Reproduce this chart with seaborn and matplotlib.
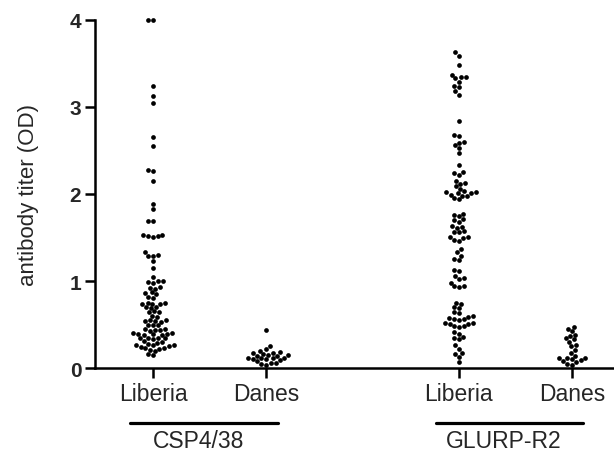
import pandas as pd
import numpy as np
import matplotlib
matplotlib.use("Agg")
import matplotlib.pyplot as plt
import seaborn as sns

# values (OD)
csp_liberia = [4.0, 4.0, 3.24, 3.13, 3.05, 2.66, 2.55, 2.28, 2.26, 2.15, 1.89, 1.83,
               1.69, 1.69, 1.53, 1.53, 1.52, 1.52, 1.50, 1.33, 1.30, 1.29, 1.29, 1.23,
               1.15, 1.05, 1.0, 1.0, 0.99, 0.98, 0.93, 0.92, 0.91, 0.87, 0.86, 0.85,
               0.82, 0.81, 0.75, 0.75, 0.74, 0.74, 0.73, 0.70, 0.70, 0.69, 0.65, 0.64,
               0.64, 0.60, 0.59, 0.55, 0.55, 0.54, 0.54, 0.53, 0.50, 0.49, 0.49, 0.45,
               0.45, 0.44, 0.44, 0.43, 0.40, 0.40, 0.39, 0.39, 0.39, 0.38, 0.38, 0.35,
               0.35, 0.34, 0.34, 0.33, 0.31, 0.30, 0.29, 0.28, 0.27, 0.27, 0.26, 0.25,
               0.24, 0.23, 0.23, 0.22, 0.21, 0.20, 0.16, 0.15]
csp_danes = [0.44, 0.25, 0.22, 0.20, 0.18, 0.17, 0.17, 0.16, 0.15, 0.15, 0.14, 0.14,
             0.12, 0.12, 0.11, 0.11, 0.10, 0.10, 0.09, 0.08, 0.06, 0.06, 0.05, 0.04]
glurp_liberia = [3.63, 3.59, 3.48, 3.37, 3.35, 3.34, 3.33, 3.29, 3.24, 3.23, 3.18, 3.14,
                 2.84, 2.68, 2.67, 2.60, 2.59, 2.56, 2.53, 2.47, 2.33, 2.25, 2.24, 2.22,
                 2.15, 2.13, 2.12, 2.09, 2.06, 2.03, 2.02, 2.02, 2.01, 2.01, 1.99, 1.98,
                 1.98, 1.95, 1.94, 1.77, 1.76, 1.75, 1.71, 1.70, 1.68, 1.63, 1.62, 1.61,
                 1.57, 1.56, 1.56, 1.50, 1.50, 1.49, 1.47, 1.46, 1.37, 1.33, 1.29, 1.25,
                 1.24, 1.13, 1.12, 1.06, 1.03, 1.02, 0.98, 0.94, 0.94, 0.93, 0.75, 0.74,
                 0.70, 0.69, 0.64, 0.63, 0.60, 0.59, 0.58, 0.56, 0.56, 0.55, 0.52, 0.52,
                 0.51, 0.51, 0.48, 0.48, 0.47, 0.41, 0.39, 0.36, 0.35, 0.33, 0.26, 0.22,
                 0.17, 0.16, 0.13, 0.07]
glurp_danes = [0.47, 0.45, 0.42, 0.38, 0.37, 0.34, 0.33, 0.30, 0.27, 0.25, 0.21, 0.17,
               0.14, 0.12, 0.11, 0.11, 0.10, 0.09, 0.08, 0.07, 0.05, 0.04]

antigens = ["CSP4/38", "GLURP-R2"]
groups = ["Liberia", "Danes"]
series = {("CSP4/38", "Liberia"): csp_liberia, ("CSP4/38", "Danes"): csp_danes,
          ("GLURP-R2", "Liberia"): glurp_liberia, ("GLURP-R2", "Danes"): glurp_danes}

# layout: x position of each column (gap between the two antigens)
xpos = {("CSP4/38", "Liberia"): 0.0, ("CSP4/38", "Danes"): 1.0,
        ("GLURP-R2", "Liberia"): 2.7, ("GLURP-R2", "Danes"): 3.7}

rows = []
for key, vals in series.items():
    for v in vals:
        rows.append({"antigen": key[0], "group": key[1], "x": xpos[key], "titer": v})
df = pd.DataFrame(rows)

sns.set_style("ticks")
plt.rcParams["font.family"] = ["Liberation Sans", "DejaVu Sans"]

fig = plt.figure(figsize=(6.14, 4.52), dpi=100)
ax = fig.add_axes([0.155, 0.1836, 0.845, 0.77])

sns.swarmplot(data=df, x="x", y="titer", native_scale=True, color="black",
              size=3.4, linewidth=0, ax=ax, clip_on=False)

ax.set_xlim(-0.51, 4.07)
ax.set_ylim(0, 4)
ax.set_yticks([0, 1, 2, 3, 4])
ax.set_yticklabels(["0", "1", "2", "3", "4"], fontsize=15, fontweight="bold")
ax.set_xticks(list(xpos.values()))
ax.set_xticklabels([k[1] for k in xpos], fontsize=16.5)
ax.set_xlabel("")
ax.set_ylabel("antibody titer (OD)", fontsize=16, labelpad=22)
ax.tick_params(axis="both", length=7, width=1.8, color="black", pad=3)
sns.despine(ax=ax)
for s in ["left", "bottom"]:
    ax.spines[s].set_linewidth(1.8)
    ax.spines[s].set_color("black")

# group brackets under the tick labels
trans = ax.get_xaxis_transform()
for ant in antigens:
    xs = [xpos[(ant, g)] for g in groups]
    ax.plot([min(xs) - 0.2, max(xs) + 0.1], [-0.158, -0.158], color="black",
            lw=2.3, transform=trans, clip_on=False)
    ax.text(np.mean(xs) - 0.1, -0.208, ant, transform=trans, ha="center",
            va="center", fontsize=16.5)

fig.savefig("out.png", dpi=100)
